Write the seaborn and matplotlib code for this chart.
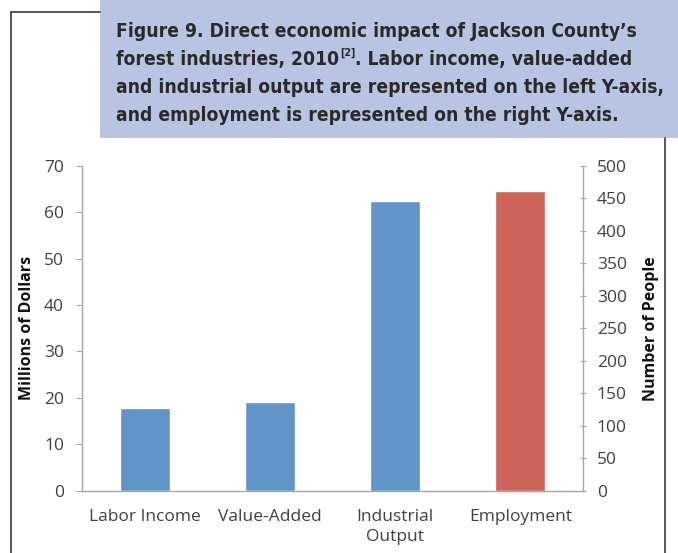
import matplotlib as mpl
import matplotlib.pyplot as plt
from matplotlib.lines import Line2D
from matplotlib.patches import Rectangle
from matplotlib.ticker import FixedLocator
import seaborn as sns

# data
categories = ["Labor Income", "Value-Added", "Industrial\nOutput", "Employment"]
dollar_cats = ["Labor Income", "Value-Added", "Industrial\nOutput"]
dollar_vals = [17.8, 19.2, 62.5]   # millions of dollars, left axis
people_cats = ["Employment"]
people_vals = [461]                # number of people, right axis

BLUE = "#6194c9"
RED = "#cd645c"
AXIS_GREY = "#a6a6a6"
TEXT_GREY = "#404040"
CAPTION_BG = "#b8c4e2"
CAPTION_FG = "#2a2a2a"

sns.set_style("white")
plt.rcParams["font.family"] = ["Open Sans", "DejaVu Sans"]

W, H = 678, 553
fig = plt.figure(figsize=(W / 100, H / 100), dpi=100)


def fx(x):
    return x / W


def fy(y):
    return 1 - y / H


ax = fig.add_axes([fx(82), fy(490.7), fx(583) - fx(82), fy(165.7) - fy(490.7)])
sns.barplot(x=dollar_cats, y=dollar_vals, order=categories, color=BLUE,
            width=0.4, saturation=1, ax=ax)
ax2 = ax.twinx()
sns.barplot(x=people_cats, y=people_vals, order=categories, color=RED,
            width=0.4, saturation=1, ax=ax2)

ax.set_xlim(-0.5, 3.5)
ax.set_ylim(0, 70)
ax2.set_ylim(0, 500)
ax.set_yticks(range(0, 71, 10))
ax2.set_yticks(range(0, 501, 50))

for a in (ax, ax2):
    for s in a.spines.values():
        s.set_visible(False)
    a.set_xlabel("")
ax.spines["left"].set_visible(True)
ax.spines["bottom"].set_visible(True)
ax2.spines["right"].set_visible(True)
for s in (ax.spines["left"], ax.spines["bottom"], ax2.spines["right"]):
    s.set_color(AXIS_GREY)
    s.set_linewidth(1.0)

ax.set_xticks(range(len(categories)))
ax.set_xticklabels(categories, linespacing=1.35)
ax.xaxis.set_minor_locator(FixedLocator([-0.5, 0.5, 1.5, 2.5, 3.5]))
ax.tick_params(axis="x", which="major", length=0, pad=13, labelsize=12.5,
               labelcolor=TEXT_GREY)
ax.tick_params(axis="x", which="minor", length=4, color=AXIS_GREY, direction="out")
ax.tick_params(axis="y", length=4, color=AXIS_GREY, direction="out", pad=9,
               labelsize=12.5, labelcolor=TEXT_GREY)
ax2.tick_params(axis="y", length=4, color=AXIS_GREY, direction="inout", pad=8,
                labelsize=12.5, labelcolor=TEXT_GREY)
ax2.tick_params(axis="x", length=0, labelbottom=False)

ax.set_ylabel("Millions of Dollars", fontsize=11.5, fontweight="bold", color="#111111")
ax.yaxis.set_label_coords((35 - 82) / 501, 0.5)
ax2.set_ylabel("Number of People", fontsize=11.5, fontweight="bold", color="#111111")
ax2.yaxis.set_label_coords((643 - 82) / 501, 0.5)

# outer frame around the chart
frame = dict(color="#3a3a3a", lw=1.2, transform=fig.transFigure)
fig.add_artist(Line2D([fx(11), fx(11)], [fy(12), 0], **frame))
fig.add_artist(Line2D([fx(11), fx(100)], [fy(12), fy(12)], **frame))
fig.add_artist(Line2D([fx(665), fx(665)], [fy(138), 0], **frame))

# caption box
fig.add_artist(Rectangle((fx(100), fy(138)), 1 - fx(100), fy(0) - fy(138),
                         facecolor=CAPTION_BG, edgecolor="none",
                         transform=fig.transFigure))
cap = dict(fontsize=15, fontweight="bold", fontstretch="condensed", color=CAPTION_FG,
           family="DejaVu Sans", va="baseline", ha="left")

# fit the longest caption line to the width it takes in the reference
probe = fig.text(0, 0, "and industrial output are represented on the left Y-axis,", **cap)
fig.canvas.draw()
w = probe.get_window_extent().width
probe.remove()
cap["fontsize"] = 15 * 548 / w

x0 = fx(116)
fig.text(x0, fy(37), "Figure 9. Direct economic impact of Jackson County\u2019s", **cap)
t = fig.text(x0, fy(65), "forest industries, 2010", **cap)
fig.text(x0, fy(93), "and industrial output are represented on the left Y-axis,", **cap)
fig.text(x0, fy(121), "and employment is represented on the right Y-axis.", **cap)

fig.canvas.draw()
bb = t.get_window_extent().transformed(fig.transFigure.inverted())
sup = fig.text(bb.x1 + fx(1), fy(56), "[2]", **{**cap, "fontsize": cap["fontsize"] * 0.55})
fig.canvas.draw()
bb2 = sup.get_window_extent().transformed(fig.transFigure.inverted())
fig.text(bb2.x1, fy(65), ". Labor income, value-added", **cap)

fig.savefig("out.png", dpi=100)
